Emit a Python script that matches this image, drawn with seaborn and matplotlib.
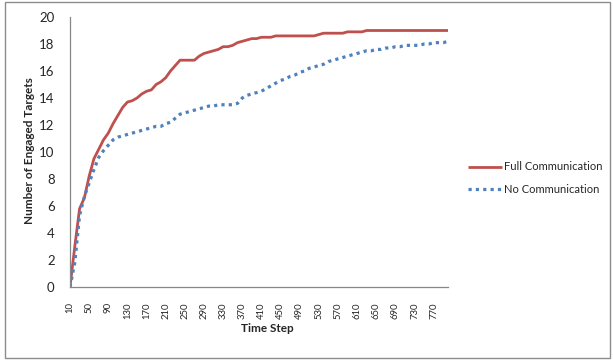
import matplotlib
matplotlib.use("Agg")
import matplotlib.pyplot as plt
from matplotlib.patches import Rectangle
import seaborn as sns
import pandas as pd

# Time steps (categories) and engaged-target counts for each scenario
time_steps = list(range(10, 810, 10))

full_comm = [
    0.0, 3.0, 5.8, 6.6, 8.2, 9.5, 10.2, 10.9, 11.4, 12.1,
    12.7, 13.3, 13.7, 13.8, 14.0, 14.3, 14.5, 14.6, 15.0, 15.2,
    15.5, 16.0, 16.4, 16.8, 16.8, 16.8, 16.8, 17.1, 17.3, 17.4,
    17.5, 17.6, 17.8, 17.8, 17.9, 18.1, 18.2, 18.3, 18.4, 18.4,
    18.5, 18.5, 18.5, 18.6, 18.6, 18.6, 18.6, 18.6, 18.6, 18.6,
    18.6, 18.6, 18.7, 18.8, 18.8, 18.8, 18.8, 18.8, 18.9, 18.9,
    18.9, 18.9, 19.0, 19.0, 19.0, 19.0, 19.0, 19.0, 19.0, 19.0,
    19.0, 19.0, 19.0, 19.0, 19.0, 19.0, 19.0, 19.0, 19.0, 19.0,
]

no_comm = [
    0.0, 1.8, 5.3, 6.7, 7.7, 8.7, 9.6, 10.1, 10.5, 10.9,
    11.1, 11.2, 11.3, 11.4, 11.5, 11.6, 11.7, 11.8, 11.9, 11.9,
    12.1, 12.2, 12.5, 12.8, 12.9, 13.0, 13.1, 13.2, 13.3, 13.4,
    13.4, 13.5, 13.5, 13.5, 13.5, 13.6, 14.0, 14.2, 14.3, 14.4,
    14.5, 14.7, 14.9, 15.1, 15.3, 15.4, 15.6, 15.7, 15.9, 16.0,
    16.2, 16.3, 16.4, 16.5, 16.7, 16.8, 16.9, 17.0, 17.1, 17.2,
    17.3, 17.4, 17.5, 17.5, 17.6, 17.6, 17.7, 17.7, 17.8, 17.8,
    17.9, 17.9, 17.9, 17.9, 18.0, 18.0, 18.1, 18.1, 18.1, 18.2,
]

series_names = ["Full Communication", "No Communication"]
y_ticks = list(range(0, 21, 2))

sns.set_style("white")
plt.rcParams["font.family"] = ["Lato", "DejaVu Sans"]

fig = plt.figure(figsize=(6.13, 3.6), dpi=100)
ax = fig.add_axes([70 / 613, 73 / 360, 378 / 613, 270 / 360])

positions = list(range(len(time_steps)))
df = pd.DataFrame({"pos": positions, "full": full_comm, "none": no_comm})

red = "#C0504D"
blue = "#4F81BD"

sns.lineplot(data=df, x="pos", y="full", ax=ax, color=red, linewidth=2.0,
             label=series_names[0], solid_capstyle="butt")
sns.lineplot(data=df, x="pos", y="none", ax=ax, color=blue, linewidth=2.3,
             linestyle=(0, (1.0, 1.3)), dash_capstyle="butt",
             label=series_names[1])

ax.set_xlim(0, len(time_steps) - 1)
ax.set_ylim(0, 20)
ax.set_yticks(y_ticks)
ax.set_yticklabels([str(v) for v in y_ticks], fontsize=9.5)

label_idx = positions[::4]
ax.set_xticks(label_idx)
ax.set_xticklabels([str(time_steps[i]) for i in label_idx], rotation=90,
                   fontsize=6.8)
ax.tick_params(axis="both", length=0)
ax.tick_params(axis="y", pad=11)
ax.tick_params(axis="x", pad=11)

ax.set_xlabel("")
ax.set_ylabel("")
for side in ("top", "right"):
    ax.spines[side].set_visible(False)
for side in ("left", "bottom"):
    ax.spines[side].set_color("#878787")
    ax.spines[side].set_linewidth(0.9)
ax.grid(False)

fig.text(267 / 613, 1 - 329 / 360, "Time Step", ha="center", va="center",
         fontsize=8.5, fontweight="bold")
fig.text(30 / 613, 1 - 151 / 360, "Number of Engaged Targets", ha="center",
         va="center", rotation=90, fontsize=8.5, fontweight="bold")

leg = ax.legend(loc="upper left", bbox_to_anchor=(464 / 613, 1 - 157 / 360),
                bbox_transform=fig.transFigure, frameon=False, fontsize=8,
                handlelength=3.0, handletextpad=0.2, labelspacing=1.05,
                borderaxespad=0)

fig.patches.append(Rectangle((5 / 613, 2 / 360), 605 / 613, 356 / 360,
                             transform=fig.transFigure, fill=False,
                             edgecolor="#8c8c8c", linewidth=1.0))

fig.savefig("out.png", dpi=100)
